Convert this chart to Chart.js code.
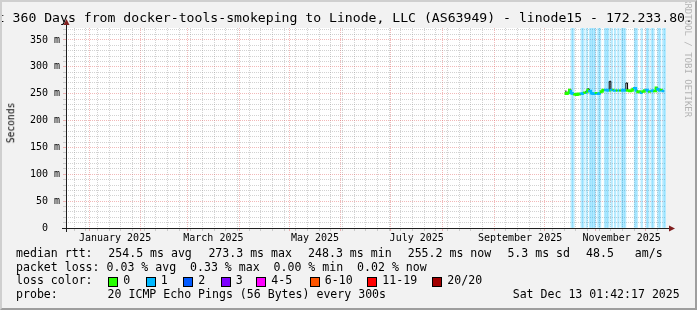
<!DOCTYPE html>
<html>
<head>
<meta charset="utf-8">
<script src="https://cdn.jsdelivr.net/npm/chart.js@4.4.1/dist/chart.umd.min.js"></script>
<style>
  html, body { margin: 0; padding: 0; }
  body {
    width: 697px; height: 310px; overflow: hidden; position: relative;
    background: #f2f2f2; font-family: "DejaVu Sans Mono", monospace; color: #000;
  }
  #chart { position: absolute; left: 0; top: 0; }
  #frame {
    position: absolute; left: 0; top: 0; width: 697px; height: 310px; box-sizing: border-box;
    border: 2px solid; border-color: #cfcfcf #9e9e9e #9e9e9e #cfcfcf; pointer-events: none;
  }
  .t { position: absolute; white-space: pre; line-height: 1; }
  .lg { font-size: 11.57px; }
  .box { position: absolute; width: 8px; height: 8px; border: 1px solid #000; }
</style>
</head>
<body>
<canvas id="chart" width="697" height="310"></canvas>

<div class="t" style="left:-27px; top:11.4px; font-size:13.15px">Last 360 Days from docker-tools-smokeping to Linode, LLC (AS63949) - linode15 - 172.233.80.</div>
<div class="t" style="left:11px; top:122.5px; font-size:9.6px; transform:translate(-50%,-50%) rotate(-90deg)">Seconds</div>
<div class="t" style="left:683px; top:-2px; font-size:9px; writing-mode:vertical-rl; color:#b4b4b4">RRDTOOL / TOBI OETIKER</div>

<div class="t lg" style="left:16px; top:247.7px">median rtt:</div>
<div class="t lg" style="left:108.3px; top:247.7px">254.5 ms avg</div>
<div class="t lg" style="left:208.4px; top:247.7px">273.3 ms max</div>
<div class="t lg" style="left:308.1px; top:247.7px">248.3 ms min</div>
<div class="t lg" style="left:407.7px; top:247.7px">255.2 ms now</div>
<div class="t lg" style="left:507.4px; top:247.7px">5.3 ms sd</div>
<div class="t lg" style="left:586.1px; top:247.7px">48.5   am/s</div>

<div class="t lg" style="left:16px; top:261.7px">packet loss: 0.03 % avg  0.33 % max  0.00 % min  0.02 % now</div>

<div class="t lg" style="left:16px; top:275.2px">loss color:</div>
<div id="losslegend"></div>

<div class="t lg" style="left:16px; top:289.2px">probe:</div>
<div class="t lg" style="left:107.6px; top:289.2px">20 ICMP Echo Pings (56 Bytes) every 300s</div>
<div class="t lg" style="left:512.7px; top:289.2px">Sat Dec 13 01:42:17 2025</div>

<div id="frame"></div>

<script>
// graph covers the 360 days before Sat Dec 13 01:42:17 2025
const START = Date.UTC(2024, 11, 18, 1, 42, 17);
const DAY = 86400000;
const SPAN_DAYS = 360;
const Y_MAX = 372.34;

// loss colours (20 pings)
const lossLabels = ['0', '1', '2', '3', '4-5', '6-10', '11-19', '20/20'];
const lossColors = ['#26ff00', '#00b8ff', '#0059ff', '#7e00ff', '#ff00ff', '#ff5500', '#ff0000', '#a10000'];
const lossBoxX = [108, 145.5, 183, 220.5, 256, 309.5, 367, 432];

// one sample per day, ms
const dates = [
  '2025-10-14', '2025-10-15', '2025-10-16', '2025-10-17', '2025-10-18', '2025-10-19', '2025-10-20', '2025-10-21',
  '2025-10-22', '2025-10-23', '2025-10-24', '2025-10-25', '2025-10-26', '2025-10-27', '2025-10-28', '2025-10-29',
  '2025-10-30', '2025-10-31', '2025-11-01', '2025-11-02', '2025-11-03', '2025-11-04', '2025-11-05', '2025-11-06',
  '2025-11-07', '2025-11-08', '2025-11-09', '2025-11-10', '2025-11-11', '2025-11-12', '2025-11-13', '2025-11-14',
  '2025-11-15', '2025-11-16', '2025-11-17', '2025-11-18', '2025-11-19', '2025-11-20', '2025-11-21', '2025-11-22',
  '2025-11-23', '2025-11-24', '2025-11-25', '2025-11-26', '2025-11-27', '2025-11-28', '2025-11-29', '2025-11-30',
  '2025-12-01', '2025-12-02', '2025-12-03', '2025-12-04', '2025-12-05', '2025-12-06', '2025-12-07', '2025-12-08',
  '2025-12-09', '2025-12-10', '2025-12-11', '2025-12-12'
];
const median = [
  253, 250, 252, 257, 251, 250, 249, 248, 250, 249, 250, 251, 252, 252, 257, 255,
  251, 250, 250, 251, 250, 251, 254, 257, 257, 257, 256, 256, 257, 257, 256, 256,
  256, 256, 256, 257, 256, 256, 256, 255, 256, 259, 260, 256, 253, 254, 252, 254,
  256, 257, 255, 254, 255, 256, 255, 261, 258, 256, 257, 255
];
const smokeHigh = [
  256, 252, 252, 258, 251, 250, 249, 248, 250, 249, 250, 251, 252, 255, 259, 255,
  251, 250, 250, 251, 250, 251, 254, 257, 257, 257, 256, 273, 257, 257, 256, 256,
  256, 256, 256, 257, 256, 270, 256, 255, 256, 259, 261, 256, 253, 254, 252, 254,
  256, 257, 255, 254, 255, 256, 255, 261, 258, 256, 257, 255
];
// lost pings out of 20
const loss = [
  0, 0, 0, 1, 1, 0, 0, 0, 0, 1, 1, 0, 1, 0, 1, 1,
  1, 1, 0, 1, 1, 0, 0, 1, 1, 1, 0, 1, 0, 1, 0, 1,
  0, 1, 1, 1, 0, 0, 0, 0, 0, 1, 1, 0, 0, 1, 0, 0,
  1, 1, 0, 1, 1, 0, 0, 1, 1, 0, 1, 1
];

// axis ticks
const gridMonths = ['2025-01', '2025-02', '2025-03', '2025-04', '2025-05', '2025-06',
                    '2025-07', '2025-08', '2025-09', '2025-10', '2025-11', '2025-12'];
const labelMonths = ['2025-01', '2025-03', '2025-05', '2025-07', '2025-09', '2025-11'];
const labelText = ['January 2025', 'March 2025', 'May 2025', 'July 2025', 'September 2025', 'November 2025'];
const firstMonday = '2024-12-23';
const yTickValues = [0, 10, 20, 30, 40, 50, 60, 70, 80, 90, 100, 110, 120, 130, 140, 150, 160, 170, 180,
                     190, 200, 210, 220, 230, 240, 250, 260, 270, 280, 290, 300, 310, 320, 330, 340, 350, 360, 370];
const yLabelValues = [0, 50, 100, 150, 200, 250, 300, 350];
const yLabelText = ['0  ', '50 m', '100 m', '150 m', '200 m', '250 m', '300 m', '350 m'];

function dayOf(s) {
  return (Date.parse(s.length === 7 ? s + '-01T00:00:00Z' : s + 'T00:00:00Z') - START) / DAY;
}

// loss colour legend
const lossLegend = document.getElementById('losslegend');
lossLabels.forEach((lab, i) => {
  const b = document.createElement('div');
  b.className = 'box';
  b.style.left = lossBoxX[i] + 'px';
  b.style.top = '277px';
  b.style.background = lossColors[i];
  lossLegend.appendChild(b);
  const t = document.createElement('div');
  t.className = 't lg';
  t.style.left = (lossBoxX[i] + 15.3) + 'px';
  t.style.top = '275.2px';
  t.textContent = lab;
  lossLegend.appendChild(t);
});

// x ticks: weekly minor lines, monthly major lines, mid month labels
const xKind = new Map();
for (let d = dayOf(firstMonday); d < SPAN_DAYS; d += 7) xKind.set(d, 'minor');
gridMonths.forEach(m => xKind.set(dayOf(m), 'major'));
const xLabel = new Map();
labelMonths.forEach((m, i) => {
  const d = dayOf(m) + 15.5;
  xKind.set(d, 'label');
  xLabel.set(d, labelText[i]);
});
const xTicks = [...xKind.keys()].sort((a, b) => a - b);

const MINOR = 'rgba(143,143,143,0.4)';
const MAJOR = 'rgba(222,79,79,0.4)';
const NONE = 'rgba(0,0,0,0)';

const rrdFrame = {
  id: 'rrdFrame',
  beforeDraw(chart) {
    const { ctx, chartArea: a } = chart;
    ctx.save();
    ctx.fillStyle = '#fff';
    ctx.fillRect(a.left, a.top, a.right - a.left, a.bottom - a.top);
    ctx.restore();
  },
  afterDraw(chart) {
    const { ctx, chartArea: a } = chart;
    const yb = a.bottom + 0.5, xl = a.left + 0.5;
    ctx.save();
    ctx.strokeStyle = '#1f1f1f';
    ctx.lineWidth = 1;
    ctx.beginPath();
    ctx.moveTo(a.left - 4, yb); ctx.lineTo(a.right + 4, yb);
    ctx.moveTo(xl, a.bottom + 4); ctx.lineTo(xl, a.top - 4);
    ctx.stroke();
    ctx.fillStyle = '#801f1f';
    ctx.beginPath();
    ctx.moveTo(a.right + 3, yb - 3); ctx.lineTo(a.right + 9, yb); ctx.lineTo(a.right + 3, yb + 3);
    ctx.fill();
    ctx.beginPath();
    ctx.moveTo(xl - 3, a.top - 3); ctx.lineTo(xl, a.top - 9); ctx.lineTo(xl + 3, a.top - 3);
    ctx.fill();
    ctx.restore();
  }
};

const pts = arr => dates.map((d, i) => ({ x: dayOf(d), y: arr[i] }));
const lossBars = dates
  .map((d, i) => ({ x: dayOf(d) + 0.5, y: [0, Y_MAX], l: loss[i] }))
  .filter(p => p.l > 0);

new Chart(document.getElementById('chart'), {
  type: 'line',
  data: {
    datasets: [
      {
        type: 'bar',
        data: lossBars,
        backgroundColor: lossBars.map(p => lossColors[p.l] + '48'),
        borderWidth: 0,
        barThickness: 600 / SPAN_DAYS,
        order: 3
      },
      {
        data: pts(smokeHigh),
        borderColor: '#000',
        borderWidth: 1,
        stepped: 'after',
        pointRadius: 0,
        order: 2
      },
      {
        data: pts(median),
        borderColor: lossColors[0],
        borderWidth: 2.5,
        stepped: 'after',
        pointRadius: 0,
        segment: { borderColor: c => lossColors[loss[c.p0DataIndex]] },
        order: 1
      }
    ]
  },
  options: {
    responsive: false,
    devicePixelRatio: 1,
    animation: false,
    events: [],
    layout: { padding: { top: 28, right: 31, bottom: 62, left: 0 } },
    plugins: { legend: { display: false }, tooltip: { enabled: false } },
    scales: {
      x: {
        type: 'linear', min: 0, max: SPAN_DAYS, offset: false,
        afterBuildTicks: s => { s.ticks = xTicks.map(v => ({ value: v })); },
        afterFit: s => { s.height = 20; },
        border: { display: false, dash: [1, 1] },
        grid: {
          offset: false,
          tickLength: 3,
          color: c => xKind.get(c.tick.value) === 'major' ? MAJOR : (xKind.get(c.tick.value) === 'minor' ? MINOR : NONE),
          tickColor: c => xKind.get(c.tick.value) === 'major' ? MAJOR : (xKind.get(c.tick.value) === 'minor' ? MINOR : NONE)
        },
        ticks: {
          autoSkip: false, maxRotation: 0, minRotation: 0, padding: 1,
          color: '#000', font: { family: 'DejaVu Sans Mono', size: 10 },
          callback: v => xLabel.get(v) || ''
        }
      },
      y: {
        type: 'linear', min: 0, max: Y_MAX,
        afterBuildTicks: s => { s.ticks = yTickValues.map(v => ({ value: v })); },
        afterFit: s => { s.width = 66; },
        border: { display: false, dash: [1, 1] },
        grid: {
          tickLength: 3,
          color: c => yLabelValues.includes(c.tick.value) ? MAJOR : MINOR,
          tickColor: c => yLabelValues.includes(c.tick.value) ? MAJOR : MINOR
        },
        ticks: {
          autoSkip: false, padding: 3, color: '#000', font: { family: 'DejaVu Sans Mono', size: 10 },
          callback: v => { const i = yLabelValues.indexOf(v); return i < 0 ? '' : yLabelText[i]; }
        }
      }
    }
  },
  plugins: [rrdFrame]
});
</script>
</body>
</html>
